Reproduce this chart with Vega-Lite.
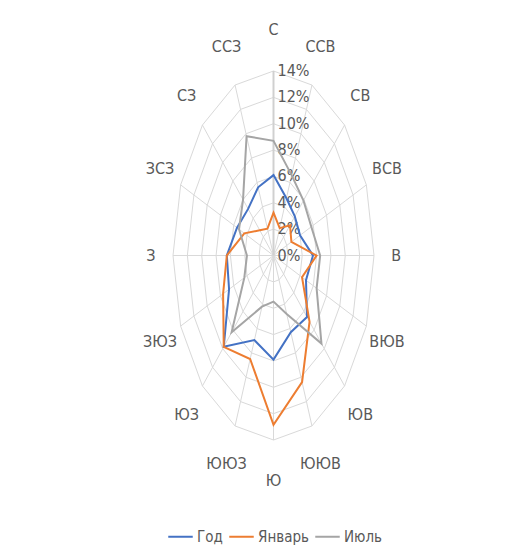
{
  "$schema": "https://vega.github.io/schema/vega-lite/v6.json",
  "width": 201,
  "height": 369,
  "autosize": {"type": "none"},
  "padding": {"left": 173, "top": 71, "right": 153, "bottom": 111},
  "background": "white",
  "config": {
    "view": {"stroke": null},
    "font": "Liberation Sans Narrow, DejaVu Sans Condensed, sans-serif"
  },
  "datasets": {
    "dirs": [
      {"dir": "С", "i": 0}, {"dir": "ССВ", "i": 1}, {"dir": "СВ", "i": 2}, {"dir": "ВСВ", "i": 3},
      {"dir": "В", "i": 4}, {"dir": "ВЮВ", "i": 5}, {"dir": "ЮВ", "i": 6}, {"dir": "ЮЮВ", "i": 7},
      {"dir": "Ю", "i": 8}, {"dir": "ЮЮЗ", "i": 9}, {"dir": "ЮЗ", "i": 10}, {"dir": "ЗЮЗ", "i": 11},
      {"dir": "З", "i": 12}, {"dir": "ЗСЗ", "i": 13}, {"dir": "СЗ", "i": 14}, {"dir": "ССЗ", "i": 15}
    ],
    "levels": [
      {"level": 0}, {"level": 2}, {"level": 4}, {"level": 6}, {"level": 8}, {"level": 10}, {"level": 12}, {"level": 14}
    ],
    "grid": [
      {"i":0,"level":2},{"i":1,"level":2},{"i":2,"level":2},{"i":3,"level":2},{"i":4,"level":2},{"i":5,"level":2},{"i":6,"level":2},{"i":7,"level":2},{"i":8,"level":2},{"i":9,"level":2},{"i":10,"level":2},{"i":11,"level":2},{"i":12,"level":2},{"i":13,"level":2},{"i":14,"level":2},{"i":15,"level":2},
      {"i":0,"level":4},{"i":1,"level":4},{"i":2,"level":4},{"i":3,"level":4},{"i":4,"level":4},{"i":5,"level":4},{"i":6,"level":4},{"i":7,"level":4},{"i":8,"level":4},{"i":9,"level":4},{"i":10,"level":4},{"i":11,"level":4},{"i":12,"level":4},{"i":13,"level":4},{"i":14,"level":4},{"i":15,"level":4},
      {"i":0,"level":6},{"i":1,"level":6},{"i":2,"level":6},{"i":3,"level":6},{"i":4,"level":6},{"i":5,"level":6},{"i":6,"level":6},{"i":7,"level":6},{"i":8,"level":6},{"i":9,"level":6},{"i":10,"level":6},{"i":11,"level":6},{"i":12,"level":6},{"i":13,"level":6},{"i":14,"level":6},{"i":15,"level":6},
      {"i":0,"level":8},{"i":1,"level":8},{"i":2,"level":8},{"i":3,"level":8},{"i":4,"level":8},{"i":5,"level":8},{"i":6,"level":8},{"i":7,"level":8},{"i":8,"level":8},{"i":9,"level":8},{"i":10,"level":8},{"i":11,"level":8},{"i":12,"level":8},{"i":13,"level":8},{"i":14,"level":8},{"i":15,"level":8},
      {"i":0,"level":10},{"i":1,"level":10},{"i":2,"level":10},{"i":3,"level":10},{"i":4,"level":10},{"i":5,"level":10},{"i":6,"level":10},{"i":7,"level":10},{"i":8,"level":10},{"i":9,"level":10},{"i":10,"level":10},{"i":11,"level":10},{"i":12,"level":10},{"i":13,"level":10},{"i":14,"level":10},{"i":15,"level":10},
      {"i":0,"level":12},{"i":1,"level":12},{"i":2,"level":12},{"i":3,"level":12},{"i":4,"level":12},{"i":5,"level":12},{"i":6,"level":12},{"i":7,"level":12},{"i":8,"level":12},{"i":9,"level":12},{"i":10,"level":12},{"i":11,"level":12},{"i":12,"level":12},{"i":13,"level":12},{"i":14,"level":12},{"i":15,"level":12},
      {"i":0,"level":14},{"i":1,"level":14},{"i":2,"level":14},{"i":3,"level":14},{"i":4,"level":14},{"i":5,"level":14},{"i":6,"level":14},{"i":7,"level":14},{"i":8,"level":14},{"i":9,"level":14},{"i":10,"level":14},{"i":11,"level":14},{"i":12,"level":14},{"i":13,"level":14},{"i":14,"level":14},{"i":15,"level":14}
    ],
    "wind": [
      {"dir": "С", "series": "Год", "value": 6.1},
      {"dir": "ССВ", "series": "Год", "value": 4.7},
      {"dir": "СВ", "series": "Год", "value": 4.2},
      {"dir": "ВСВ", "series": "Год", "value": 4.0},
      {"dir": "В", "series": "Год", "value": 5.5},
      {"dir": "ВЮВ", "series": "Год", "value": 4.9},
      {"dir": "ЮВ", "series": "Год", "value": 6.6},
      {"dir": "ЮЮВ", "series": "Год", "value": 6.3},
      {"dir": "Ю", "series": "Год", "value": 7.9},
      {"dir": "ЮЮЗ", "series": "Год", "value": 6.95},
      {"dir": "ЮЗ", "series": "Год", "value": 9.8},
      {"dir": "ЗЮЗ", "series": "Год", "value": 6.7},
      {"dir": "З", "series": "Год", "value": 6.5},
      {"dir": "ЗСЗ", "series": "Год", "value": 5.5},
      {"dir": "СЗ", "series": "Год", "value": 5.0},
      {"dir": "ССЗ", "series": "Год", "value": 5.6},
      {"dir": "С", "series": "Январь", "value": 3.25},
      {"dir": "ССВ", "series": "Январь", "value": 2.25},
      {"dir": "СВ", "series": "Январь", "value": 3.25},
      {"dir": "ВСВ", "series": "Январь", "value": 2.7},
      {"dir": "В", "series": "Январь", "value": 6.0},
      {"dir": "ВЮВ", "series": "Январь", "value": 4.3},
      {"dir": "ЮВ", "series": "Январь", "value": 7.1},
      {"dir": "ЮЮВ", "series": "Январь", "value": 10.4},
      {"dir": "Ю", "series": "Январь", "value": 12.85},
      {"dir": "ЮЮЗ", "series": "Январь", "value": 8.5},
      {"dir": "ЮЗ", "series": "Январь", "value": 9.8},
      {"dir": "ЗЮЗ", "series": "Январь", "value": 7.6},
      {"dir": "З", "series": "Январь", "value": 6.5},
      {"dir": "ЗСЗ", "series": "Январь", "value": 4.4},
      {"dir": "СЗ", "series": "Январь", "value": 2.7},
      {"dir": "ССЗ", "series": "Январь", "value": 2.2},
      {"dir": "С", "series": "Июль", "value": 8.7},
      {"dir": "ССВ", "series": "Июль", "value": 6.6},
      {"dir": "СВ", "series": "Июль", "value": 5.9},
      {"dir": "ВСВ", "series": "Июль", "value": 5.7},
      {"dir": "В", "series": "Июль", "value": 6.5},
      {"dir": "ВЮВ", "series": "Июль", "value": 6.5},
      {"dir": "ЮВ", "series": "Июль", "value": 9.45},
      {"dir": "ЮЮВ", "series": "Июль", "value": 4.8},
      {"dir": "Ю", "series": "Июль", "value": 3.5},
      {"dir": "ЮЮЗ", "series": "Июль", "value": 4.2},
      {"dir": "ЮЗ", "series": "Июль", "value": 8.25},
      {"dir": "ЗЮЗ", "series": "Июль", "value": 4.4},
      {"dir": "З", "series": "Июль", "value": 3.7},
      {"dir": "ЗСЗ", "series": "Июль", "value": 5.2},
      {"dir": "СЗ", "series": "Июль", "value": 6.0},
      {"dir": "ССЗ", "series": "Июль", "value": 9.8}
    ]
  },
  "layer": [
    {
      "data": {"name": "grid"},
      "transform": [
        {"calculate": "datum.level * sin(datum.i * PI / 8)", "as": "px"},
        {"calculate": "datum.level * cos(datum.i * PI / 8)", "as": "py"}
      ],
      "mark": {"type": "line", "interpolate": "linear-closed", "stroke": "#D9D9D9", "strokeWidth": 1},
      "encoding": {
        "x": {"field": "px", "type": "quantitative", "scale": {"domain": [-14, 14], "nice": false, "zero": false}, "axis": null},
        "y": {"field": "py", "type": "quantitative", "scale": {"domain": [-14, 14], "nice": false, "zero": false}, "axis": null},
        "detail": {"field": "level", "type": "nominal"},
        "order": {"field": "i", "type": "quantitative"}
      }
    },
    {
      "data": {"name": "dirs"},
      "transform": [
        {"calculate": "0", "as": "o"},
        {"calculate": "14 * sin(datum.i * PI / 8)", "as": "sx"},
        {"calculate": "14 * cos(datum.i * PI / 8)", "as": "sy"}
      ],
      "mark": {"type": "rule", "stroke": "#D9D9D9", "strokeWidth": 1},
      "encoding": {
        "x": {"field": "o", "type": "quantitative", "axis": null},
        "y": {"field": "o", "type": "quantitative", "axis": null},
        "x2": {"field": "sx"},
        "y2": {"field": "sy"}
      }
    },
    {
      "data": {"name": "levels"},
      "transform": [{"filter": "datum.level == 14"}, {"calculate": "0", "as": "o"}],
      "mark": {"type": "rule", "stroke": "#D0D0D0", "strokeWidth": 2},
      "encoding": {
        "x": {"field": "o", "type": "quantitative", "axis": null},
        "y": {"field": "o", "type": "quantitative", "axis": null},
        "y2": {"field": "level"}
      }
    },
    {
      "data": {"name": "levels"},
      "transform": [{"calculate": "datum.level + '%'", "as": "label"}, {"calculate": "0", "as": "o"}],
      "mark": {"type": "text", "align": "left", "baseline": "middle", "dx": 4, "fontSize": 16, "fill": "#595959"},
      "encoding": {
        "x": {"field": "o", "type": "quantitative", "axis": null},
        "y": {"field": "level", "type": "quantitative", "axis": null},
        "text": {"field": "label", "type": "nominal"}
      }
    },
    {
      "data": {"name": "dirs"},
      "transform": [
        {"calculate": "17.1 * sin(datum.i * PI / 8)", "as": "lx"},
        {"calculate": "17.1 * cos(datum.i * PI / 8)", "as": "ly"}
      ],
      "mark": {"type": "text", "align": "center", "baseline": "middle", "fontSize": 16, "fill": "#595959"},
      "encoding": {
        "x": {"field": "lx", "type": "quantitative", "axis": null},
        "y": {"field": "ly", "type": "quantitative", "axis": null},
        "text": {"field": "dir", "type": "nominal"}
      }
    },
    {
      "data": {"name": "wind"},
      "transform": [
        {"lookup": "dir", "from": {"data": {"name": "dirs"}, "key": "dir", "fields": ["i"]}},
        {"calculate": "datum.value * sin(datum.i * PI / 8)", "as": "px"},
        {"calculate": "datum.value * cos(datum.i * PI / 8)", "as": "py"}
      ],
      "mark": {"type": "line", "interpolate": "linear-closed", "strokeWidth": 2},
      "encoding": {
        "x": {"field": "px", "type": "quantitative", "axis": null},
        "y": {"field": "py", "type": "quantitative", "axis": null},
        "order": {"field": "i", "type": "quantitative"},
        "color": {
          "field": "series",
          "type": "nominal",
          "scale": {"domain": ["Год", "Январь", "Июль"], "range": ["#4472C4", "#ED7D31", "#A5A5A5"]},
          "legend": {
            "orient": "none",
            "legendX": -6,
            "legendY": 452,
            "direction": "horizontal",
            "title": null,
            "symbolType": "stroke",
            "symbolSize": 600,
            "symbolStrokeWidth": 2,
            "labelFontSize": 15,
            "labelColor": "#595959",
            "labelOffset": 3,
            "columnPadding": 2
          }
        }
      }
    }
  ]
}
